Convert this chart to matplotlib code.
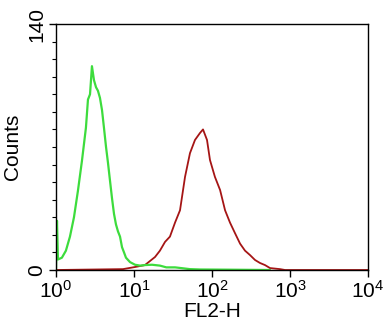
import numpy as np
import matplotlib.pyplot as plt
from matplotlib.ticker import LogLocator, MultipleLocator, NullFormatter

plt.rcParams['font.family'] = ['Liberation Sans', 'DejaVu Sans']
plt.rcParams['mathtext.default'] = 'regular'

# isotype control (green) histogram, FL2-H vs counts
green_x = [1.0, 1.03, 1.06, 1.19, 1.34, 1.51, 1.70, 1.91, 2.15, 2.42, 2.57, 2.73,
           2.81, 2.89, 3.07, 3.26, 3.45, 3.66, 3.89, 4.12, 4.38, 4.64, 4.92, 5.22,
           5.54, 5.87, 6.23, 6.62, 7.02, 7.45, 7.89, 8.89, 10.3, 12.0, 13.8, 17.0,
           21.5, 26.0, 33.6, 42.0, 52.0, 70.0, 150.0, 550.0]
green_y = [0, 28, 6, 7, 11, 19, 30, 45, 62, 81, 97, 100,
           108, 116, 108, 104, 102, 98, 91, 81, 70, 61, 51, 41,
           32, 26, 22, 19, 13, 10, 7, 4.5, 3, 2.5, 2.8, 3,
           2.5, 1.5, 1.5, 1, 0.5, 0.3, 0.2, 0]

# stained sample (red) histogram
red_x = [1.0, 7.23, 10.3, 13.8, 18.6, 21.5, 25.0, 28.9, 33.6, 38.9, 45.1, 52.2,
         60.5, 70.2, 76.7, 86.3, 94.2, 109, 127, 147, 170, 197, 229, 265,
         307, 356, 412, 478, 554, 745, 863, 10000]
red_y = [0, 0.5, 1.7, 2.8, 7.4, 11, 16, 19, 27, 34, 53, 66.5,
         74, 78, 80, 74, 62.6, 53, 45.5, 34, 27, 21, 15, 11,
         8.5, 5.7, 4, 2.8, 1.1, 0.5, 0, 0]

fig = plt.figure(figsize=(3.91, 3.27), dpi=100)
ax = fig.add_axes([0.1432, 0.1743, 0.798, 0.7523])

ax.plot(red_x, red_y, color='#a51515', lw=1.3)
ax.plot(green_x, green_y, color='#3ddc3d', lw=1.6)

ax.set_xscale('log')
ax.set_xlim(1, 1e4)
ax.set_ylim(0, 140)

ax.set_xticks([1, 10, 100, 1000, 10000])
ax.set_xticklabels([r'$10^{0}$', r'$10^{1}$', r'$10^{2}$', r'$10^{3}$', r'$10^{4}$'])
ax.xaxis.set_minor_locator(LogLocator(base=10, subs=np.arange(2, 10)))
ax.xaxis.set_minor_formatter(NullFormatter())

ax.set_yticks([0, 140])
ax.set_yticklabels(['0', '140'], rotation=90, va='center')
ax.yaxis.set_minor_locator(MultipleLocator(10))

ax.tick_params(which='major', length=5, width=1, labelsize=15, pad=2)
ax.tick_params(which='minor', length=3, width=0.8)

ax.set_xlabel('FL2-H', fontsize=15, labelpad=0)
ax.set_ylabel('Counts', fontsize=15, labelpad=4)

for s in ax.spines.values():
    s.set_linewidth(1)

fig.savefig('out.png', dpi=100)
